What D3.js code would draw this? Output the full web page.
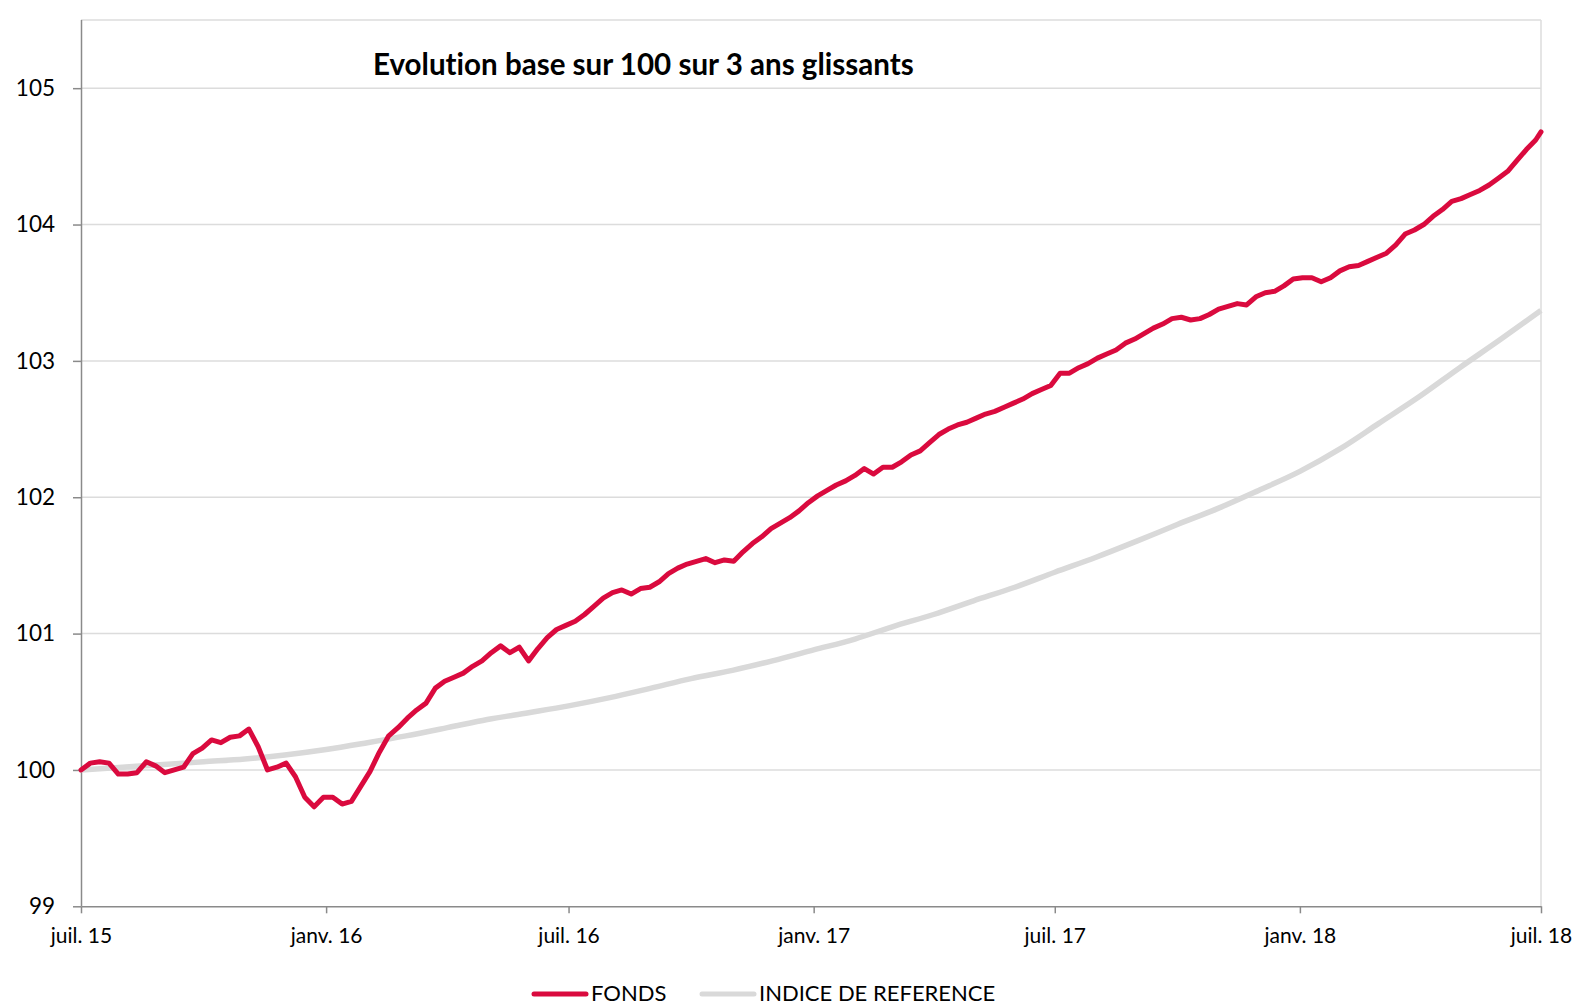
<!DOCTYPE html>
<html>
<head>
<meta charset="utf-8">
<script src="https://cdn.jsdelivr.net/npm/d3@7"></script>
<style>
  body { margin: 0; background: #fff; }
  svg { display: block; }
  text { font-family: Lato, "Open Sans", sans-serif; fill: #000; font-variant-ligatures: none; }
</style>
</head>
<body>
<svg id="chart" width="1579" height="1007"></svg>
<script>
// ---- data ----
var startDate = new Date(2015, 6, 1);
var endDate = new Date(2018, 6, 1);

// FONDS, weekly closes from juil. 15 (last value = juil. 18)
var fondsValues = [
  100.00, 100.05, 100.06, 100.05, 99.97, 99.97, 99.98, 100.06, 100.03, 99.98,
  100.00, 100.02, 100.12, 100.16, 100.22, 100.20, 100.24, 100.25, 100.30, 100.17,
  100.00, 100.02, 100.05, 99.95, 99.80, 99.73, 99.80, 99.80, 99.75, 99.77,
  99.88, 99.99, 100.13, 100.25, 100.31, 100.38, 100.44, 100.49, 100.60, 100.65,
  100.68, 100.71, 100.76, 100.80, 100.86, 100.91, 100.86, 100.90, 100.80, 100.89,
  100.97, 101.03, 101.06, 101.09, 101.14, 101.20, 101.26, 101.30, 101.32, 101.29,
  101.33, 101.34, 101.38, 101.44, 101.48, 101.51, 101.53, 101.55, 101.52, 101.54,
  101.53, 101.60, 101.66, 101.71, 101.77, 101.81, 101.85, 101.90, 101.96, 102.01,
  102.05, 102.09, 102.12, 102.16, 102.21, 102.17, 102.22, 102.22, 102.26, 102.31,
  102.34, 102.40, 102.46, 102.50, 102.53, 102.55, 102.58, 102.61, 102.63, 102.66,
  102.69, 102.72, 102.76, 102.79, 102.82, 102.91, 102.91, 102.95, 102.98, 103.02,
  103.05, 103.08, 103.13, 103.16, 103.20, 103.24, 103.27, 103.31, 103.32, 103.30,
  103.31, 103.34, 103.38, 103.40, 103.42, 103.41, 103.47, 103.50, 103.51, 103.55,
  103.60, 103.61, 103.61, 103.58, 103.61, 103.66, 103.69, 103.70, 103.73, 103.76,
  103.79, 103.85, 103.93, 103.96, 104.00, 104.06, 104.11, 104.17, 104.19, 104.22,
  104.25, 104.29, 104.34, 104.39, 104.47, 104.55, 104.62, 104.68
];

// INDICE DE REFERENCE, monthly from juil. 15 to juil. 18
var indiceValues = [
  100.00, 100.02, 100.04, 100.06, 100.08, 100.11, 100.15, 100.20, 100.25, 100.31,
  100.37, 100.42, 100.47, 100.53, 100.60, 100.67, 100.73, 100.80, 100.88, 100.96,
  101.05, 101.14, 101.24, 101.34, 101.45, 101.56, 101.68, 101.80, 101.92, 102.05,
  102.19, 102.36, 102.54, 102.74, 102.95, 103.16, 103.37
];

var yTicks = [99, 100, 101, 102, 103, 104, 105];
var xTickLabels = ["juil. 15", "janv. 16", "juil. 16", "janv. 17", "juil. 17", "janv. 18", "juil. 18"];
var seriesNames = ["FONDS", "INDICE DE REFERENCE"];
var seriesColors = ["#da0a3e", "#d9d9d9"];
var title = "Evolution base sur 100 sur 3 ans glissants";

var fonds = fondsValues.map(function (v, i) {
  var d = i < fondsValues.length - 1 ? d3.timeDay.offset(startDate, 7 * i) : endDate;
  return { date: d, value: v };
});
var indice = indiceValues.map(function (v, i) {
  return { date: d3.timeMonth.offset(startDate, i), value: v };
});
var xTickDates = xTickLabels.map(function (l, i) { return d3.timeMonth.offset(startDate, 6 * i); });

// ---- layout ----
var svg = d3.select("#chart");
var plotLeft = 81, plotRight = 1541, plotTop = 20, plotBottom = 906.3;

var x = d3.scaleTime().domain([startDate, endDate]).range([plotLeft, plotRight]);
var y = d3.scaleLinear().domain([99, 105.5]).range([plotBottom, plotTop]);

// gridlines + frame
svg.append("g")
  .selectAll("line")
  .data(yTicks.slice(1))
  .join("line")
  .attr("x1", plotLeft).attr("x2", plotRight)
  .attr("y1", function (d) { return y(d); })
  .attr("y2", function (d) { return y(d); })
  .attr("stroke", "#dcdcdc")
  .attr("stroke-width", 1.5);

svg.append("line")
  .attr("x1", plotLeft).attr("x2", plotRight).attr("y1", plotTop).attr("y2", plotTop)
  .attr("stroke", "#dcdcdc").attr("stroke-width", 1.5);
svg.append("line")
  .attr("x1", plotRight).attr("x2", plotRight).attr("y1", plotTop).attr("y2", plotBottom)
  .attr("stroke", "#dcdcdc").attr("stroke-width", 1.5);

// axes
var yAxis = svg.append("g")
  .attr("transform", "translate(" + plotLeft + ",0)")
  .call(d3.axisLeft(y).tickValues(yTicks).tickFormat(d3.format("d"))
    .tickSize(8).tickPadding(18).tickSizeOuter(0));
yAxis.select(".domain").attr("d", "M0.5," + plotTop + "V" + plotBottom);

var xAxis = svg.append("g")
  .attr("transform", "translate(0," + plotBottom + ")")
  .call(d3.axisBottom(x).tickValues(xTickDates)
    .tickFormat(function (d, i) { return xTickLabels[i]; })
    .tickSize(7).tickPadding(15).tickSizeOuter(0));

svg.selectAll(".domain, .tick line")
  .attr("stroke", "#8a8a8a")
  .attr("stroke-width", 1.5);
yAxis.selectAll("text").style("font-size", "22.5px").style("fill", "#000");
xAxis.selectAll("text").style("font-size", "21px").style("fill", "#000");

// series
var line = d3.line()
  .x(function (d) { return x(d.date); })
  .y(function (d) { return y(d.value); });

svg.append("path")
  .datum(indice)
  .attr("fill", "none")
  .attr("stroke", seriesColors[1])
  .attr("stroke-width", 5.5)
  .attr("stroke-linejoin", "round")
  .attr("d", line.curve(d3.curveMonotoneX));

svg.append("path")
  .datum(fonds)
  .attr("fill", "none")
  .attr("stroke", seriesColors[0])
  .attr("stroke-width", 5)
  .attr("stroke-linejoin", "round")
  .attr("stroke-linecap", "round")
  .attr("d", line.curve(d3.curveLinear));

// title
var t = svg.append("text")
  .attr("x", 373)
  .attr("y", 75)
  .style("font-weight", "bold")
  .style("font-size", "26px")
  .text(title);
var tw = t.node().getComputedTextLength();
t.style("font-size", (26 * 541 / tw) + "px");

// legend
var legendX = [534, 702];
var legend = svg.append("g").selectAll("g")
  .data(seriesNames)
  .join("g")
  .attr("transform", function (d, i) { return "translate(" + legendX[i] + ",994)"; });
legend.append("line")
  .attr("x1", 0).attr("x2", 52)
  .attr("stroke", function (d, i) { return seriesColors[i]; })
  .attr("stroke-width", 5)
  .attr("stroke-linecap", "round");
legend.append("text")
  .attr("x", 57)
  .attr("y", 7)
  .style("font-size", "22px")
  .text(function (d) { return d; });
</script>
</body>
</html>
